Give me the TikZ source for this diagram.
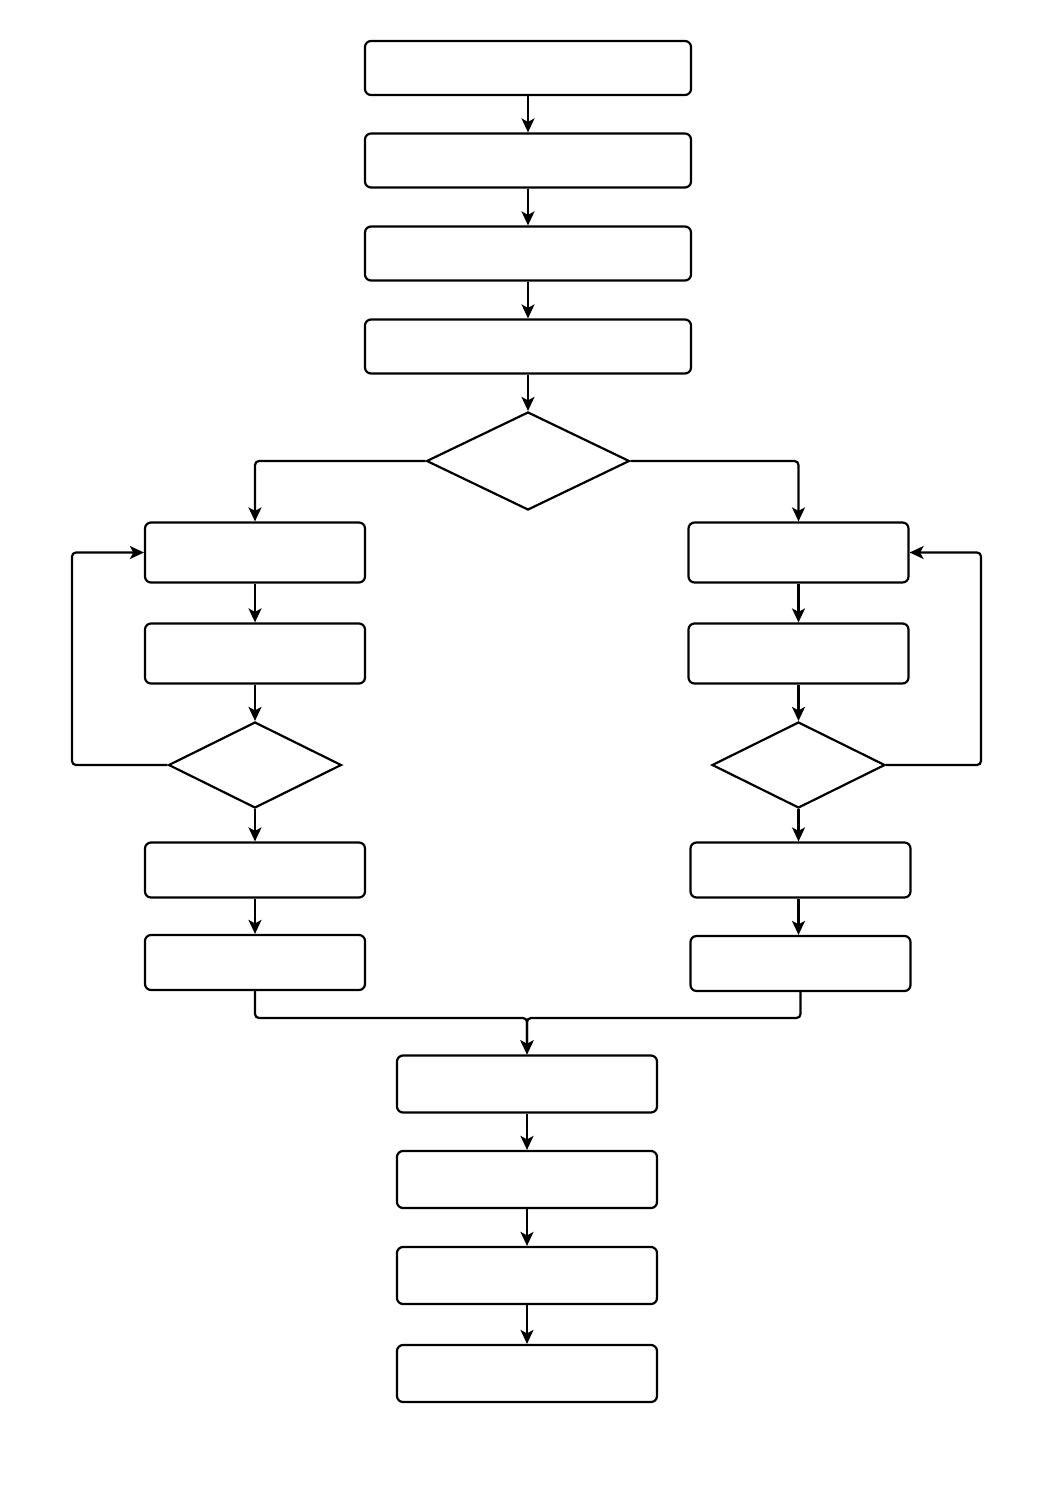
\documentclass[tikz,border=0pt]{standalone}
\usetikzlibrary{shapes.geometric,arrows.meta}
\begin{document}
\begin{tikzpicture}[x=1pt,y=-1pt,
  boxnode/.style={draw,line width=2.2pt,rounded corners=6pt,inner sep=0pt,fill=white},
  topbox/.style={boxnode,minimum width=326pt,minimum height=54pt},
  sidebox/.style={boxnode,minimum width=220pt,minimum height=60pt},
  sideboxb/.style={boxnode,minimum width=220pt,minimum height=55pt},
  botbox/.style={boxnode,minimum width=260pt,minimum height=57pt},
  decision/.style={draw,line width=2.2pt,diamond,inner sep=0pt,fill=white},
  conn/.style={line width=2.2pt,rounded corners=4pt,-{Stealth[length=14pt,width=13pt,inset=3.5pt]}},
  plainconn/.style={line width=2.2pt,rounded corners=4pt}]
\useasboundingbox (0,0) rectangle (1055,1491);
% top column
\node[topbox] (b1) at (528,68) {};
\node[topbox] (b2) at (528,160.5) {};
\node[topbox] (b3) at (528,253.5) {};
\node[topbox] (b4) at (528,346.5) {};
\node[decision,minimum width=203pt,minimum height=98pt] (d1) at (528,461) {};
% left column
\node[sidebox] (l1) at (255,552.5) {};
\node[sidebox] (l2) at (255,653.5) {};
\node[decision,minimum width=173pt,minimum height=86pt] (ld) at (255,765) {};
\node[sideboxb] (l3) at (255,870) {};
\node[sideboxb] (l4) at (255,962.5) {};
% right column
\node[sidebox] (r1) at (798.5,552.5) {};
\node[sidebox] (r2) at (798.5,653.5) {};
\node[decision,minimum width=173pt,minimum height=86pt] (rd) at (798.5,765) {};
\node[sideboxb] (r3) at (800.5,870) {};
\node[sideboxb] (r4) at (800.5,963.5) {};
% bottom column
\node[botbox] (c1) at (527,1084) {};
\node[botbox] (c2) at (527,1179.5) {};
\node[botbox] (c3) at (527,1275.5) {};
\node[botbox] (c4) at (527,1373.5) {};
% connectors
\draw[conn] (b1) -- (b2);
\draw[conn] (b2) -- (b3);
\draw[conn] (b3) -- (b4);
\draw[conn] (b4) -- (d1);
\draw[conn] (d1.west) -| (l1.north);
\draw[conn] (d1.east) -| (r1.north);
\draw[conn] (l1) -- (l2);
\draw[conn] (l2) -- (ld);
\draw[conn] (ld) -- (l3);
\draw[conn] (l3) -- (l4);
\draw[conn] (r1) -- (r2);
\draw[conn] (r2) -- (rd);
\draw[conn] (rd.south) -- (rd.south |- r3.north);
\draw[conn] (r3.south -| rd.south) -- (rd.south |- r4.north);
\coordinate (lloop) at (72,765);
\coordinate (rloop) at (981,765);
\draw[conn] (ld.west) -- (lloop) |- (l1.west);
\draw[conn] (rd.east) -- (rloop) |- (r1.east);
\coordinate (lm) at (255,1018);
\coordinate (rm) at (800.5,1018);
\draw[conn] (l4.south) -- (lm) -| (c1.north);
\draw[conn] (r4.south) -- (rm) -| (c1.north);
\draw[conn] (c1) -- (c2);
\draw[conn] (c2) -- (c3);
\draw[conn] (c3) -- (c4);
\end{tikzpicture}
\end{document}
